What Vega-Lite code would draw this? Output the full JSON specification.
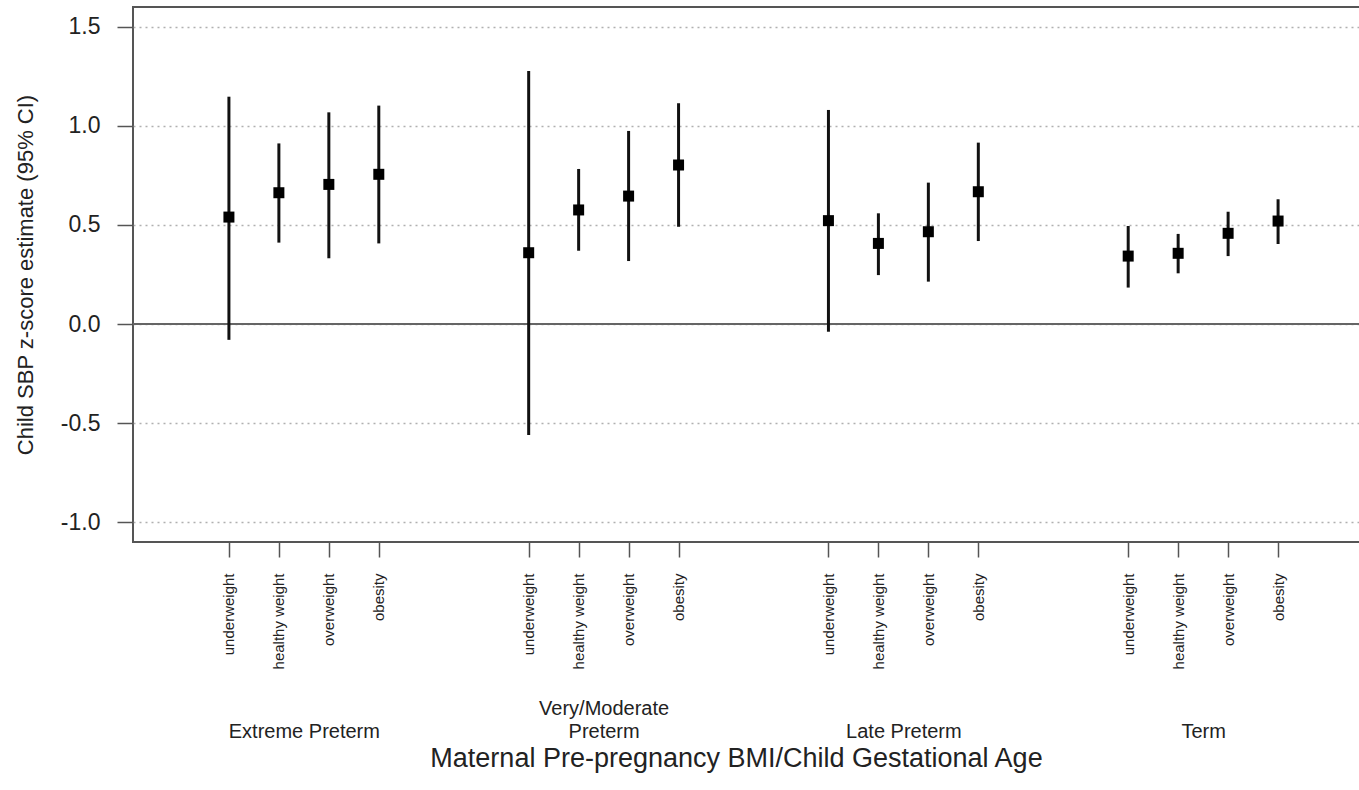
{
  "$schema": "https://vega.github.io/schema/vega-lite/v6.json",
  "width": 1241,
  "height": 535,
  "autosize": {"type": "none"},
  "padding": {"left": 133, "top": 7, "right": 0, "bottom": 248},
  "background": "white",
  "config": {
    "font": "Liberation Sans",
    "view": {"stroke": "#555", "strokeWidth": 2}
  },
  "data": {
    "values": [
      {"group": "Extreme Preterm", "bmi": "underweight", "est": 0.540, "lo": -0.080, "hi": 1.148},
      {"group": "Extreme Preterm", "bmi": "healthy weight", "est": 0.663, "lo": 0.411, "hi": 0.912},
      {"group": "Extreme Preterm", "bmi": "overweight", "est": 0.705, "lo": 0.332, "hi": 1.069},
      {"group": "Extreme Preterm", "bmi": "obesity", "est": 0.756, "lo": 0.407, "hi": 1.103},
      {"group": "Very/Moderate Preterm", "bmi": "underweight", "est": 0.360, "lo": -0.561, "hi": 1.278},
      {"group": "Very/Moderate Preterm", "bmi": "healthy weight", "est": 0.576, "lo": 0.370, "hi": 0.783},
      {"group": "Very/Moderate Preterm", "bmi": "overweight", "est": 0.646, "lo": 0.318, "hi": 0.975},
      {"group": "Very/Moderate Preterm", "bmi": "obesity", "est": 0.803, "lo": 0.491, "hi": 1.115},
      {"group": "Late Preterm", "bmi": "underweight", "est": 0.522, "lo": -0.039, "hi": 1.081},
      {"group": "Late Preterm", "bmi": "healthy weight", "est": 0.407, "lo": 0.247, "hi": 0.559},
      {"group": "Late Preterm", "bmi": "overweight", "est": 0.466, "lo": 0.214, "hi": 0.714},
      {"group": "Late Preterm", "bmi": "obesity", "est": 0.668, "lo": 0.419, "hi": 0.916},
      {"group": "Term", "bmi": "underweight", "est": 0.343, "lo": 0.184, "hi": 0.495},
      {"group": "Term", "bmi": "healthy weight", "est": 0.357, "lo": 0.256, "hi": 0.455},
      {"group": "Term", "bmi": "overweight", "est": 0.458, "lo": 0.343, "hi": 0.567},
      {"group": "Term", "bmi": "obesity", "est": 0.520, "lo": 0.404, "hi": 0.630}
    ]
  },
  "transform": [
    {
      "calculate": "6 * indexof(['Extreme Preterm','Very/Moderate Preterm','Late Preterm','Term'], datum.group) + indexof(['underweight','healthy weight','overweight','obesity'], datum.bmi) + 1",
      "as": "slot"
    }
  ],
  "layer": [
    {
      "layer": [
        {
          "mark": {"type": "rule", "color": "#666", "strokeWidth": 1.5},
          "encoding": {"y": {"datum": 0, "type": "quantitative"}}
        },
        {
          "mark": {"type": "rule", "color": "#111", "strokeWidth": 3},
          "encoding": {
            "x": {
              "field": "slot",
              "type": "quantitative",
              "scale": {"domain": [-0.92, 23.92], "nice": false, "zero": false},
              "axis": {
                "values": [1, 2, 3, 4, 7, 8, 9, 10, 13, 14, 15, 16, 19, 20, 21, 22],
                "labelExpr": "['underweight','healthy weight','overweight','obesity'][(datum.value - 1) % 6]",
                "labelAngle": -90,
                "labelFontSize": 15,
                "labelColor": "#222",
                "labelPadding": 16,
                "labelOverlap": false,
                "labelFlush": false,
                "labelBound": false,
                "tickSize": 15,
                "tickColor": "#555",
                "tickWidth": 1.5,
                "domain": false,
                "grid": false,
                "title": null
              }
            },
            "y": {
              "field": "lo",
              "type": "quantitative",
              "scale": {"domain": [-1.101, 1.601], "nice": false, "zero": false},
              "axis": {
                "values": [-1, -0.5, 0, 0.5, 1, 1.5],
                "labelExpr": "replace(format(datum.value, '.1f'), '\u2212', '-')",
                "labelFontSize": 23,
                "labelColor": "#222",
                "labelPadding": 17,
                "labelFlush": false,
                "tickSize": 16,
                "tickColor": "#555",
                "tickWidth": 1.5,
                "domain": false,
                "grid": true,
                "gridColor": "#b0b0b0",
                "gridDash": [2, 4],
                "gridWidth": 1.5,
                "title": "Child SBP z-score estimate (95% CI)",
                "titleFontSize": 22,
                "titleFontWeight": "normal",
                "titleColor": "#222",
                "titleAngle": 270,
                "titleBaseline": "middle",
                "titleX": -108
              }
            },
            "y2": {"field": "hi"}
          }
        },
        {
          "mark": {"type": "square", "size": 121, "filled": true, "color": "#000", "opacity": 1},
          "encoding": {
            "x": {"field": "slot", "type": "quantitative"},
            "y": {"field": "est", "type": "quantitative", "title": "Child SBP z-score estimate (95% CI)"}
          }
        }
      ]
    },
    {
      "mark": {"type": "point", "opacity": 0},
      "encoding": {
        "x": {
          "field": "slot",
          "type": "quantitative",
          "scale": {"domain": [-0.92, 23.92], "nice": false, "zero": false},
          "axis": {
            "orient": "bottom",
            "values": [2.5, 8.5, 14.5, 20.5],
            "labelExpr": "datum.value < 5 ? ['', 'Extreme Preterm'] : datum.value < 11 ? ['Very/Moderate', 'Preterm'] : datum.value < 17 ? ['', 'Late Preterm'] : ['', 'Term']",
            "labelAngle": 0,
            "labelFontSize": 20,
            "labelColor": "#222",
            "labelBaseline": "alphabetic",
            "labelLineHeight": 23,
            "labelPadding": 172,
            "labelOverlap": false,
            "labelFlush": false,
            "labelBound": false,
            "ticks": false,
            "domain": false,
            "grid": false,
            "title": "Maternal Pre-pregnancy BMI/Child Gestational Age",
            "titleFontSize": 27,
            "titleFontWeight": "normal",
            "titleColor": "#222",
            "titleBaseline": "alphabetic",
            "titleX": 603,
            "titleY": 224
          }
        }
      }
    }
  ],
  "resolve": {"scale": {"x": "independent"}}
}
